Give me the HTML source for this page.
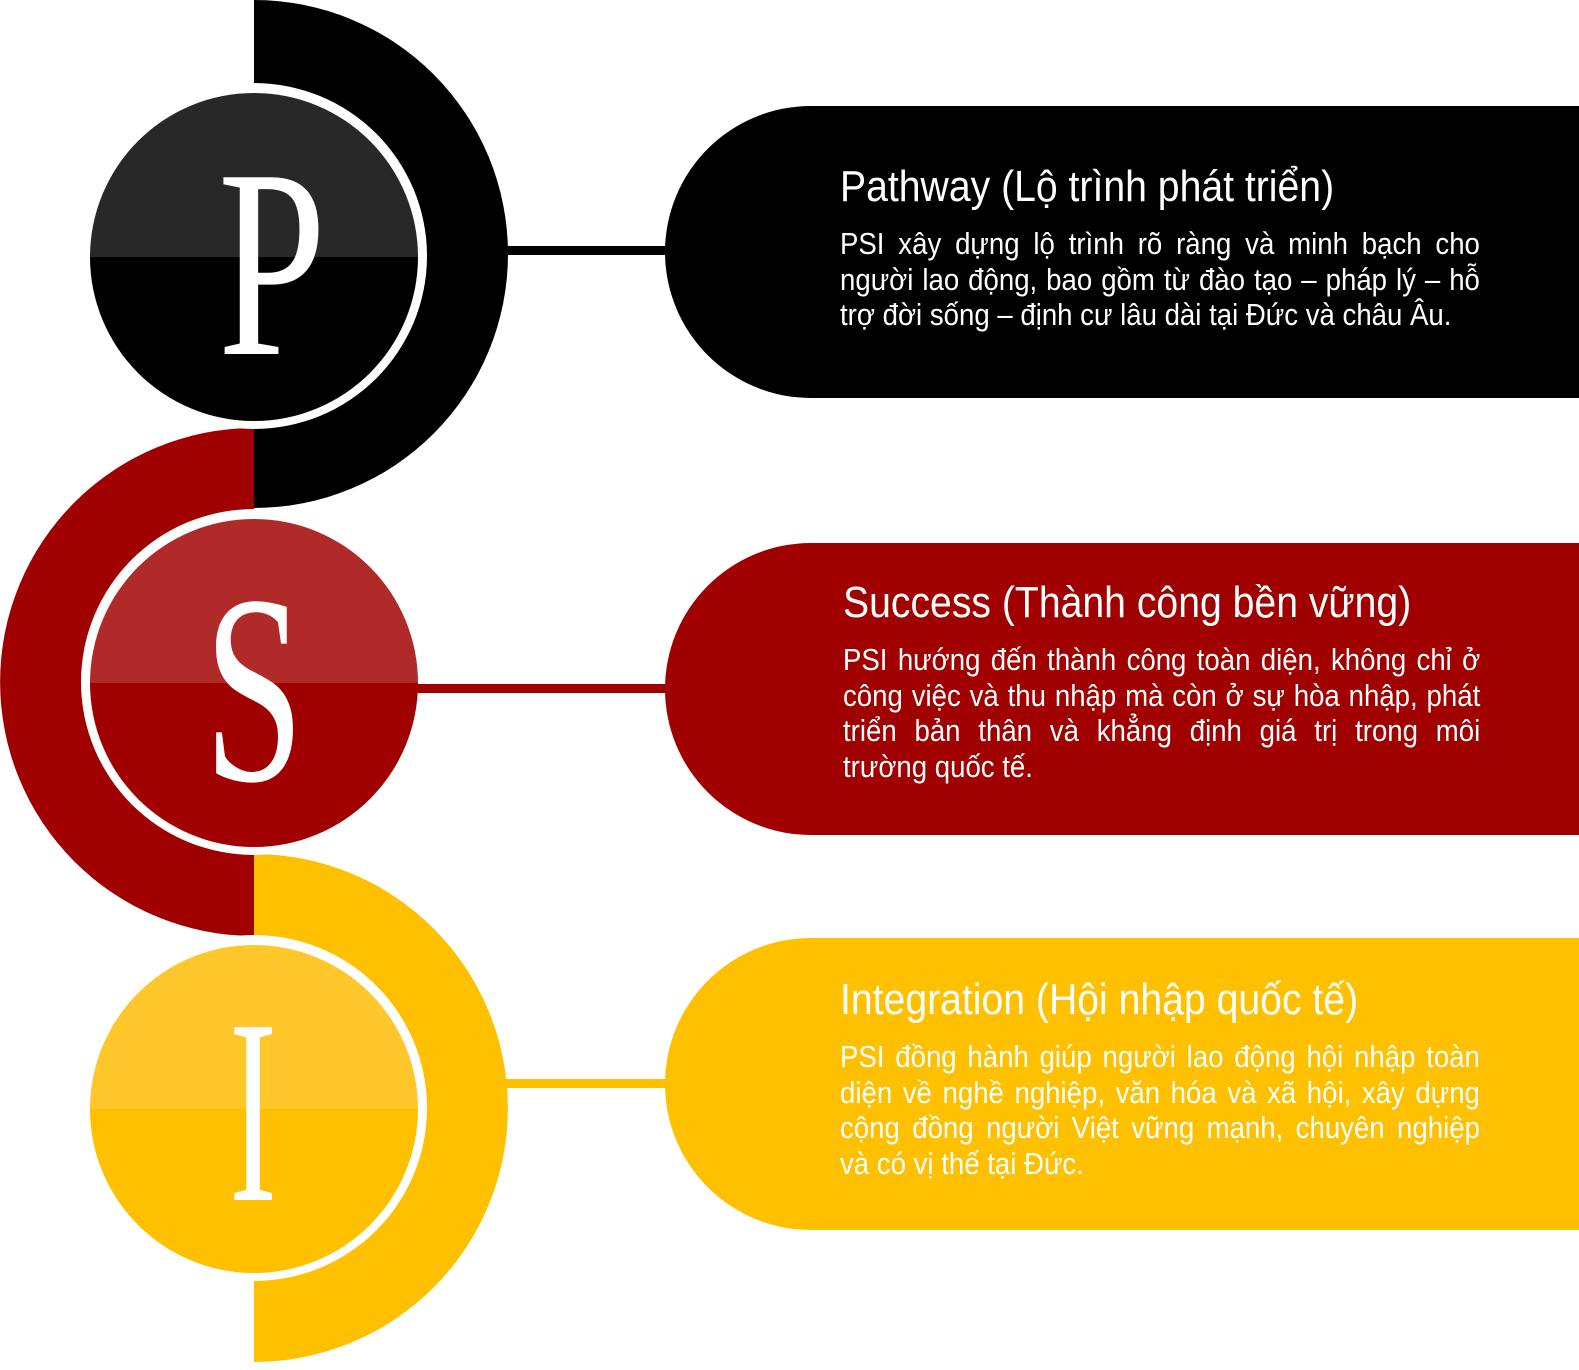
<!DOCTYPE html>
<html><head><meta charset="utf-8"><style>
html,body{margin:0;padding:0;background:#fff;}
body{width:1579px;height:1370px;position:relative;overflow:hidden;font-family:"Liberation Sans",sans-serif;}
.pill{position:absolute;left:665px;width:1000px;height:292px;border-radius:146px 0 0 146px;}
.t{position:absolute;left:840px;width:719px;color:#fff;transform:scaleX(0.89);transform-origin:0 0;}
.h{font-size:44px;line-height:50px;white-space:nowrap;}
.b{font-size:31px;line-height:35.5px;margin-top:14px;}
.b div{white-space:nowrap;text-align:justify;text-align-last:justify;}
.b div.l{text-align-last:left;}
</style></head><body>
<svg width="1579" height="1370" style="position:absolute;left:0;top:0">
 <path d="M254 0 A254 254 0 0 1 254 508 Z" fill="#000"/>
 <rect x="500" y="246" width="170" height="9" fill="#000"/>
 <path d="M254 428 A254 254 0 0 0 254 936 Z" fill="#a00000"/>
 <path d="M254 854 A254 254 0 0 1 254 1362 Z" fill="#ffc000"/>
 <rect x="500" y="1079" width="170" height="9" fill="#ffc000"/>
 <circle cx="254" cy="256" r="173" fill="#fff"/>
 <circle cx="254" cy="682" r="173" fill="#fff"/>
 <circle cx="254" cy="1108" r="173" fill="#fff"/>
 <path d="M90 257 A164 164 0 0 1 418 257 Z" fill="#282828"/>
 <path d="M90 257 A164 164 0 0 0 418 257 Z" fill="#000"/>
 <path d="M90 683 A164 164 0 0 1 418 683 Z" fill="#b02a2a"/>
 <path d="M90 683 A164 164 0 0 0 418 683 Z" fill="#a00000"/>
 <path d="M90 1109 A164 164 0 0 1 418 1109 Z" fill="#ffc72c"/>
 <path d="M90 1109 A164 164 0 0 0 418 1109 Z" fill="#ffc000"/>
 <rect x="410" y="684" width="260" height="9" fill="#a00000"/>
 <text x="0" y="0" transform="translate(272 354) scale(0.78 1.08)" font-family="Liberation Serif" font-size="250" fill="#fff" text-anchor="middle">P</text>
 <text x="0" y="0" transform="translate(254 780) scale(0.72 1.08)" font-family="Liberation Serif" font-size="250" fill="#fff" text-anchor="middle">S</text>
 <text x="0" y="0" transform="translate(253 1200) scale(0.6 1.1)" font-family="Liberation Serif" font-size="240" fill="#fff" text-anchor="middle">I</text>
</svg>
<div class="pill" style="top:106px;background:#000"></div>
<div class="pill" style="top:543px;background:#a00000"></div>
<div class="pill" style="top:938px;background:#ffc000"></div>
<div class="t" style="top:162px"><div class="h">Pathway (Lộ trình phát triển)</div><div class="b"><div>PSI xây dựng lộ trình rõ ràng và minh bạch cho</div><div>người lao động, bao gồm từ đào tạo – pháp lý – hỗ</div><div class="l">trợ đời sống – định cư lâu dài tại Đức và châu Âu.</div></div></div>
<div class="t" style="top:578px;left:843px;width:716px"><div class="h">Success (Thành công bền vững)</div><div class="b"><div>PSI hướng đến thành công toàn diện, không chỉ ở</div><div>công việc và thu nhập mà còn ở sự hòa nhập, phát</div><div>triển bản thân và khẳng định giá trị trong môi</div><div class="l">trường quốc tế.</div></div></div>
<div class="t" style="top:975px"><div class="h">Integration (Hội nhập quốc tế)</div><div class="b"><div>PSI đồng hành giúp người lao động hội nhập toàn</div><div>diện về nghề nghiệp, văn hóa và xã hội, xây dựng</div><div>cộng đồng người Việt vững mạnh, chuyên nghiệp</div><div class="l">và có vị thế tại Đức.</div></div></div>
</body></html>
